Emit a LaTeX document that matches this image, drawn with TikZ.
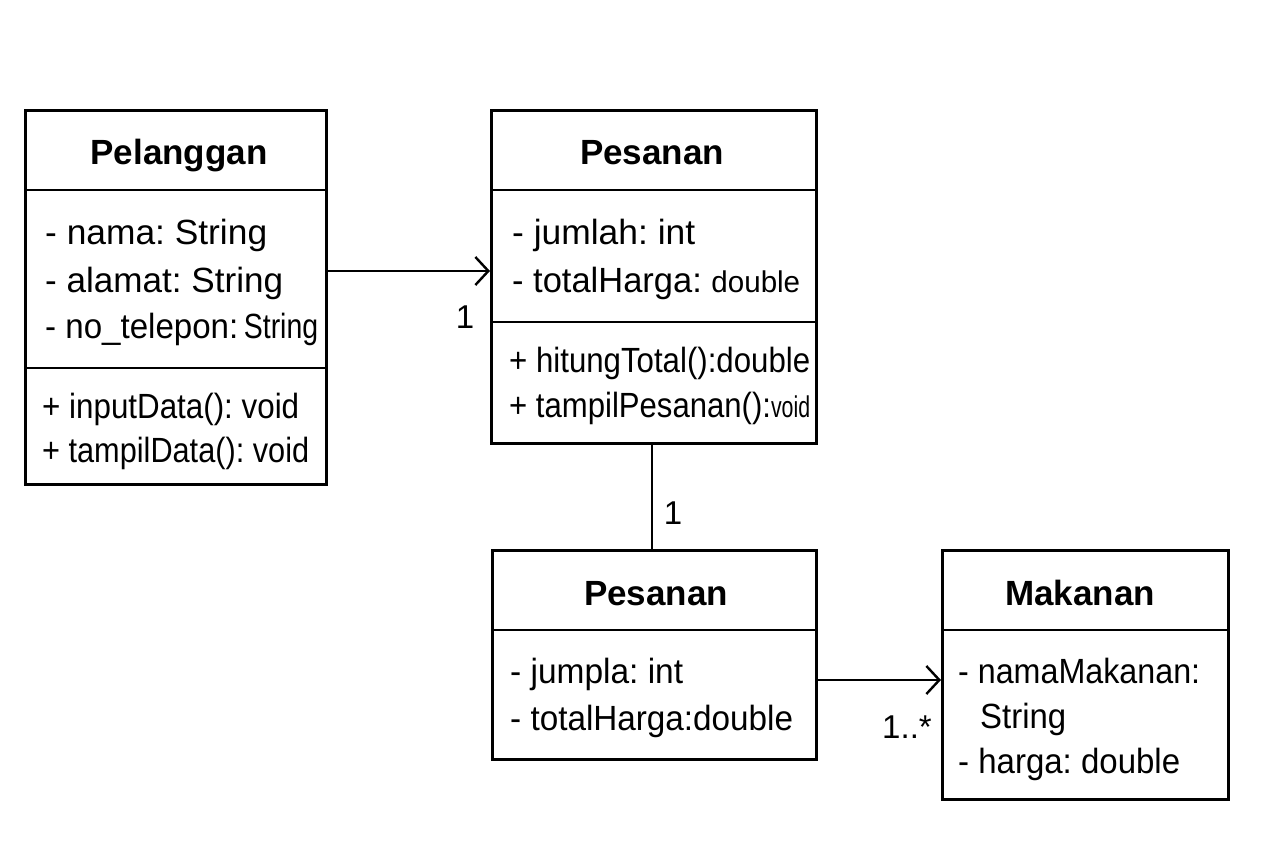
\documentclass[tikz,border=0pt]{standalone}
\usepackage{fontspec}
\setmainfont{Liberation Sans}
\usetikzlibrary{arrows.meta}
\frenchspacing
\newlength\fitlen
\newcommand{\fitw}[2]{\sbox0{#2}\setlength{\fitlen}{\wd0}\pgfmathsetmacro\fitr{#1/\fitlen}\scalebox{\fitr}[1]{\usebox0}}
\newcommand{\sm}[1]{{\fontsize{30}{36}\selectfont #1}}
\tikzset{
 cls/.style={draw, line width=2.6pt, inner sep=0pt, anchor=north west},
 txt/.style={anchor=base west, inner sep=0pt, font=\fontsize{35}{42}\selectfont},
 hdr/.style={anchor=base, inner sep=0pt, font=\fontsize{35}{42}\selectfont\bfseries},
 lbl/.style={anchor=base, inner sep=0pt, font=\fontsize{33}{40}\selectfont},
 div/.style={line width=2.6pt},
 assoc/.style={line width=2.4pt, -{Straight Barb[length=13pt,width=28pt,line width=2.4pt]}},
}
\begin{document}
\begin{tikzpicture}[x=1pt,y=-1pt]
\useasboundingbox (0,0) rectangle (1280,853);
% boxes
\node[cls, minimum width=301pt, minimum height=374pt] (pel) at (24,109) {};
\node[cls, minimum width=325pt, minimum height=333pt] (pes1) at (490,109) {};
\node[cls, minimum width=324pt, minimum height=209pt] (pes2) at (491,549) {};
\node[cls, minimum width=286pt, minimum height=249pt] (mak) at (941,549) {};
% divider levels
\coordinate (ya) at (0,190);
\coordinate (yb) at (0,368);
\coordinate (yc) at (0,322);
\coordinate (yd) at (0,630);
\draw[div] (pel.west |- ya) -- (pel.east |- ya);
\draw[div] (pel.west |- yb) -- (pel.east |- yb);
\draw[div] (pes1.west |- ya) -- (pes1.east |- ya);
\draw[div] (pes1.west |- yc) -- (pes1.east |- yc);
\draw[div] (pes2.west |- yd) -- (pes2.east |- yd);
\draw[div] (mak.west |- yd) -- (mak.east |- yd);
% Pelanggan
\node[hdr] (pelh) at (179,165) {Pelanggan};
\node[txt] (pela1) at (45,245) {\fitw{222}{- nama: String}};
\node[txt] (pela2) at (45,292) {\fitw{238}{- alamat: String}};
\node[txt] (pela3) at (45,338) {\fitw{273}{- no\_telepon:\,\scalebox{0.86}[1]{String}}};
\node[txt] (pelm1) at (42,418) {\fitw{257}{+ inputData(): void}};
\node[txt] (pelm2) at (42,462) {\fitw{267}{+ tampilData(): void}};
% Pesanan top
\node[hdr] (pes1h) at (652,165) {Pesanan};
\node[txt] (pes1a1) at (512,245) {\fitw{183}{- jumlah: int}};
\node[txt] (pes1a2) at (512,292) {\fitw{288}{- totalHarga: \sm{double}}};
\node[txt] (pes1m1) at (509,372) {\fitw{301}{+ hitungTotal():double}};
\node[txt] (pes1m2) at (509,417) {\fitw{301}{+ tampilPesanan():\scalebox{0.8}[1]{\sm{void}}}};
% Pesanan bottom
\node[hdr] (pes2h) at (656,605) {Pesanan};
\node[txt] (pes2a1) at (510,683) {\fitw{173}{- jumpla: int}};
\node[txt] (pes2a2) at (510,730) {\fitw{283}{- totalHarga:double}};
% Makanan
\node[hdr] (makh) at (1080,605) {Makanan};
\node[txt] (maka1) at (958,683) {\fitw{242}{- namaMakanan:}};
\node[txt] (maka2) at (980,728) {\fitw{86}{String}};
\node[txt] (maka3) at (958,773) {\fitw{222}{- harga: double}};
% connectors
\coordinate (r1) at (0,271);
\coordinate (r2) at (0,680);
\coordinate (cx) at (652,0);
\draw[assoc] (pel.east |- r1) -- (pes1.west |- r1);
\draw[div] (pes1.south -| cx) -- (pes2.north -| cx);
\draw[assoc] (pes2.east |- r2) -- (mak.west |- r2);
% multiplicities
\node[lbl] (m1) at (465,328) {1};
\node[lbl] (m2) at (673,524) {1};
\node[lbl] (m3) at (907,738) {1..*};
\end{tikzpicture}
\end{document}
